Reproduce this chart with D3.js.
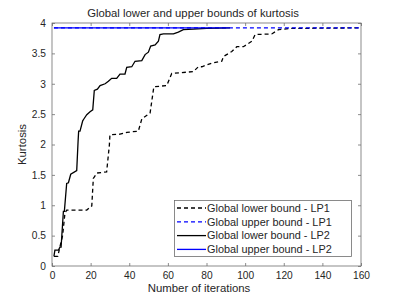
<!DOCTYPE html>
<html>
<head>
<meta charset="utf-8">
<script src="https://cdn.jsdelivr.net/npm/d3@7"></script>
<style>
  body { margin: 0; background: #fff; }
  text { font-family: "Liberation Sans", Arial, sans-serif; fill: #262626; }
</style>
</head>
<body>
<div id="chart"></div>
<script>
// Data
const iterLowerLP1 = [1, 3, 4, 5.5, 6.7, 7.6, 18, 20.6, 21.4, 23.2, 28.3, 29.7, 30, 35.2, 38.8, 44.7, 46.5, 50.8, 52.5, 52.8, 59.4, 62, 73.2, 75.8, 77.6, 82.7, 87.9, 88.8, 93.1, 95.7, 99.1, 103.5, 105.2, 113.8, 117.3, 123.3, 140, 160];
const lowerLP1 = [0.16, 0.16, 0.3, 0.5, 0.87, 0.92, 0.92, 0.99, 1.44, 1.53, 1.55, 1.99, 2.16, 2.17, 2.2, 2.22, 2.42, 2.52, 2.9, 2.95, 2.97, 3.17, 3.2, 3.28, 3.28, 3.34, 3.37, 3.45, 3.53, 3.61, 3.61, 3.70, 3.81, 3.82, 3.89, 3.91, 3.915, 3.92];

const iterUpperLP1 = [1, 160];
const upperLP1 = [3.92, 3.92];

const iterLowerLP2 = [1, 1.5, 3.3, 4.1, 4.7, 5.9, 6.4, 7.6, 8.5, 9.7, 12.8, 13.5, 13.8, 14.5, 15.9, 16.5, 18, 19.7, 21.1, 21.9, 23.5, 24.9, 27.5, 29.2, 30.9, 33.5, 35.2, 37.8, 38.7, 41.3, 43, 46.5, 48.2, 49.9, 51.1, 53.4, 55.1, 55.9, 57.7, 62.9, 65.4, 68, 73.2, 80, 92];
const lowerLP2 = [0.16, 0.26, 0.26, 0.31, 0.31, 0.9, 0.9, 1.36, 1.37, 1.51, 1.57, 2.05, 2.22, 2.22, 2.39, 2.42, 2.49, 2.54, 2.57, 2.89, 2.91, 2.97, 3.0, 3.04, 3.09, 3.09, 3.16, 3.16, 3.27, 3.28, 3.37, 3.38, 3.48, 3.52, 3.62, 3.64, 3.70, 3.81, 3.82, 3.82, 3.85, 3.89, 3.90, 3.91, 3.92];

const iterUpperLP2 = [1, 92];
const upperLP2 = [3.92, 3.92];

const xTicks = [0, 20, 40, 60, 80, 100, 120, 140, 160];
const yTicks = [0, 0.5, 1, 1.5, 2, 2.5, 3, 3.5, 4];

const legendLabels = [
  "Global lower bound - LP1",
  "Global upper bound - LP1",
  "Global lower bound - LP2",
  "Global upper bound - LP2"
];

const w = 399;
const h = 299;
const plotL = 52, plotR = 361, plotT = 23, plotB = 266;

const xScale = d3.scaleLinear().domain([0, 160]).range([plotL, plotR]);
const yScale = d3.scaleLinear().domain([0, 4]).range([plotB, plotT]);

const svg = d3.select("#chart").append("svg").attr("width", w).attr("height", h);

// Series
const series = [
  { xs: iterLowerLP1, ys: lowerLP1, color: "#000", dash: "4,3" },
  { xs: iterUpperLP1, ys: upperLP1, color: "#0000ff", dash: "4,3" },
  { xs: iterLowerLP2, ys: lowerLP2, color: "#000", dash: null },
  { xs: iterUpperLP2, ys: upperLP2, color: "#0000ff", dash: null }
];

const line = d3.line().x((d) => xScale(d[0])).y((d) => yScale(d[1]));

series.forEach((s) => {
  svg
    .append("path")
    .datum(s.xs.map((x, i) => [x, s.ys[i]]))
    .attr("d", line)
    .attr("fill", "none")
    .attr("stroke", s.color)
    .attr("stroke-width", 1.3)
    .attr("stroke-dasharray", s.dash);
});

// Axes (box with inward ticks, matlab style)
const axisColor = "#262626";
const boxColor = "#6e6e6e";
const tickLen = 3;

svg
  .append("g")
  .attr("transform", `translate(0, ${plotB})`)
  .call(d3.axisBottom(xScale).tickValues(xTicks).tickSize(-tickLen).tickPadding(6).tickFormat(d3.format("d")))
  .call((g) => g.select(".domain").remove());

svg
  .append("g")
  .attr("transform", `translate(0, ${plotT})`)
  .call(d3.axisTop(xScale).tickValues(xTicks).tickSize(-tickLen).tickFormat(""))
  .call((g) => g.select(".domain").remove());

svg
  .append("g")
  .attr("transform", `translate(${plotL}, 0)`)
  .call(d3.axisLeft(yScale).tickValues(yTicks).tickSize(-tickLen).tickPadding(6).tickFormat((d) => d))
  .call((g) => g.select(".domain").remove());

svg
  .append("g")
  .attr("transform", `translate(${plotR}, 0)`)
  .call(d3.axisRight(yScale).tickValues(yTicks).tickSize(-tickLen).tickFormat(""))
  .call((g) => g.select(".domain").remove());

svg.selectAll(".tick line").attr("stroke", boxColor).attr("stroke-width", 0.8);
svg
  .selectAll(".tick text")
  .attr("fill", axisColor)
  .style("font-size", "10.2px")
  .style("font-family", '"Liberation Sans", Arial, sans-serif');

svg
  .append("rect")
  .attr("x", plotL)
  .attr("y", plotT)
  .attr("width", plotR - plotL)
  .attr("height", plotB - plotT)
  .attr("fill", "none")
  .attr("stroke", boxColor)
  .attr("stroke-width", 0.8);

// Title and labels
svg
  .append("text")
  .attr("x", 193)
  .attr("y", 17)
  .attr("text-anchor", "middle")
  .style("font-size", "11.3px")
  .text("Global lower and upper bounds of kurtosis");

svg
  .append("text")
  .attr("x", 199)
  .attr("y", 292)
  .attr("text-anchor", "middle")
  .style("font-size", "11.4px")
  .text("Number of iterations");

svg
  .append("text")
  .attr("transform", `translate(26, ${(plotT + plotB) / 2}) rotate(-90)`)
  .attr("text-anchor", "middle")
  .style("font-size", "11.4px")
  .text("Kurtosis");

// Legend
const lg = svg.append("g");
lg.append("rect")
  .attr("x", 174.5)
  .attr("y", 200.5)
  .attr("width", 177)
  .attr("height", 56)
  .attr("fill", "#fff")
  .attr("stroke", boxColor)
  .attr("stroke-width", 0.8);

series.forEach((s, i) => {
  const yy = 208 + i * 13.8;
  lg.append("line")
    .attr("x1", 177)
    .attr("x2", 206)
    .attr("y1", yy)
    .attr("y2", yy)
    .attr("stroke", s.color)
    .attr("stroke-width", 1.3)
    .attr("stroke-dasharray", s.dash);
  lg.append("text")
    .attr("x", 207)
    .attr("y", yy + 3.8)
    .style("font-size", "10.9px")
    .text(legendLabels[i]);
});
</script>
</body>
</html>
